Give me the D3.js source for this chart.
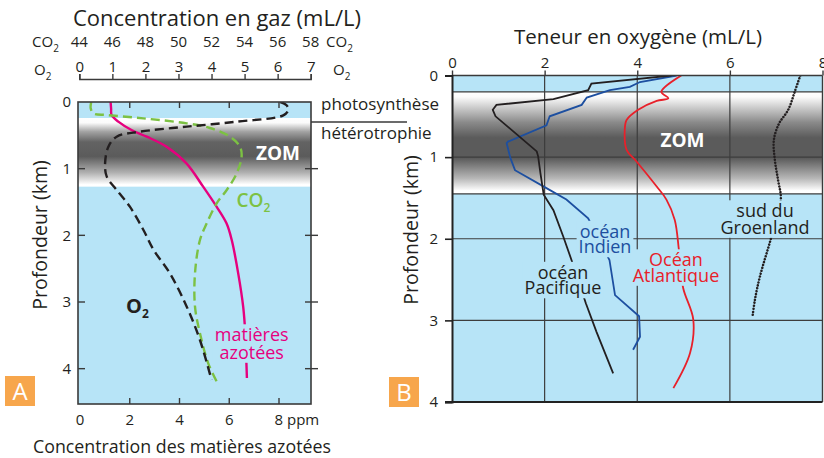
<!DOCTYPE html>
<html>
<head>
<meta charset="utf-8">
<script src="https://cdn.jsdelivr.net/npm/d3@7"></script>
<style>
  body { margin: 0; background: #fff; }
  svg text { font-family: "Open Sans", "Noto Sans", sans-serif; fill: #231f20; }
</style>
</head>
<body>
<svg id="chart" width="824" height="458"></svg>
<script>
// ---------- tick values ----------
const gasO2Ticks = [0, 1, 2, 3, 4, 5, 6, 7];
const gasCO2Ticks = [44, 46, 48, 50, 52, 54, 56, 58];
const ppmTicks = [0, 2, 4, 6, 8];
const depthTicksA = [0, 1, 2, 3, 4];
const oxygenTicks = [0, 2, 4, 6, 8];
const depthTicksB = [0, 1, 2, 3, 4];

// ---------- panel A profiles: [value, depth km] ----------
// dissolved O2 (mL/L)
const o2ProfileA = [
  [6.08, 0], [6.27, 0.05], [6.32, 0.12], [6.17, 0.2], [4.76, 0.295], [3.25, 0.37],
  [1.84, 0.445], [1.13, 0.52], [0.88, 0.67], [0.78, 0.92], [0.83, 1.12], [1.13, 1.32],
  [1.53, 1.57], [1.94, 1.92], [2.25, 2.22], [2.74, 2.57], [3.25, 3.07], [3.65, 3.57], [4.0, 4.17]
];
// dissolved CO2 (mL/L)
const co2ProfileA = [
  [44.72, 0], [44.69, 0.095], [44.85, 0.17], [45.66, 0.195], [47.87, 0.245], [50.5, 0.32],
  [51.9, 0.39], [53.12, 0.52], [53.72, 0.67], [53.82, 0.82], [53.52, 1.07], [52.92, 1.32],
  [52.31, 1.52], [51.71, 1.82], [51.3, 2.07], [51.0, 2.57], [51.0, 3.07], [51.3, 3.47],
  [51.8, 3.92], [52.41, 4.24]
];
// nitrogenous matter (ppm)
const nitrogenProfileA = [
  [1.23, 0], [1.25, 0.1], [1.27, 0.195], [1.54, 0.295], [2.07, 0.42], [2.68, 0.52],
  [3.48, 0.67], [4.28, 0.92], [4.95, 1.27], [5.49, 1.57], [5.89, 1.82], [6.1, 2.07],
  [6.36, 2.57], [6.56, 3.07], [6.65, 3.5], [6.69, 3.92], [6.71, 4.14]
];

// ---------- panel B oxygen profiles (mL/L, depth km) ----------
const pacificO2 = [
  [4.74, 0], [3.01, 0.10], [2.94, 0.18], [2.19, 0.29], [0.96, 0.36], [0.88, 0.42],
  [0.94, 0.50], [1.83, 0.93], [1.86, 0.99], [1.91, 1.20], [1.98, 1.46], [2.19, 1.65],
  [2.40, 1.97], [2.58, 2.26], [2.89, 2.79], [3.12, 3.14], [3.48, 3.65]
];
const indianO2 = [
  [4.85, 0], [4.06, 0.08], [3.84, 0.14], [3.41, 0.18], [2.91, 0.27], [2.80, 0.36],
  [2.11, 0.50], [2.04, 0.61], [1.21, 0.81], [1.18, 0.83], [1.26, 1.01], [1.36, 1.16],
  [2.04, 1.38], [2.47, 1.52], [2.94, 1.75], [3.40, 2.26], [3.52, 2.69], [4.04, 2.95],
  [4.06, 3.20], [3.91, 3.36]
];
const atlanticO2 = [
  [4.95, 0], [4.52, 0.20], [4.67, 0.28], [4.42, 0.31], [4.02, 0.42], [3.77, 0.545],
  [3.73, 0.67], [3.77, 0.91], [3.98, 1.05], [4.42, 1.36], [4.63, 1.52], [4.81, 1.77],
  [4.90, 2.14], [4.99, 2.60], [5.21, 2.99], [5.14, 3.40], [4.78, 3.83]
];
const greenlandO2 = [
  [7.52, 0], [7.40, 0.2], [7.26, 0.42], [7.06, 0.59], [6.95, 0.79], [6.97, 1.03],
  [7.04, 1.28], [7.10, 1.52], [6.90, 1.97], [6.65, 2.46], [6.54, 2.75], [6.49, 2.95]
];

// oxygen minimum zone depth limits (km)
const zomA = [0.24, 1.27];
const zomB = [0.2, 1.45];

// ---------- styling ----------
const SEA = "#b7e4f7";
const INK = "#231f20";
const FRAME = "#3a3a3a";
const PINK = "#e6007e";
const GREEN = "#7cc143";
const BLUE = "#1d4fa0";
const RED = "#e8202a";
const ORANGE = "#f7a64c";

const svg = d3.select("#chart");
const defs = svg.append("defs");

function zomGradient(id, stops) {
  const g = defs.append("linearGradient").attr("id", id)
    .attr("x1", 0).attr("y1", 0).attr("x2", 0).attr("y2", 1);
  stops.forEach(([o, c]) => g.append("stop").attr("offset", o).attr("stop-color", c));
}
zomGradient("zomA", [[0, "#fff"], [0.07, "#fbfbfb"], [0.2, "#a2a2a2"], [0.35, "#636363"],
  [0.56, "#5b5b5b"], [0.8, "#b2b2b2"], [0.97, "#fff"], [1, "#fff"]]);
zomGradient("zomB", [[0, "#fff"], [0.05, "#fbfbfb"], [0.3, "#8a8a8a"], [0.45, "#5b5b5b"],
  [0.65, "#5b5b5b"], [0.85, "#b8b8b8"], [0.97, "#fff"], [1, "#fff"]]);

// chemical formula with a lowered index
function sub(textSel, main, idx, size) {
  textSel.append("tspan").text(main);
  textSel.append("tspan").text(idx).attr("font-size", size).attr("dy", size * 0.45);
}

// multi-line label as a single text element, optionally backed by a sea-coloured box
function stackedLabel(parent, lines, cx, cy, gap, size, color, backed) {
  const g = parent.append("g");
  const t = g.append("text").attr("text-anchor", "middle").attr("font-size", size).style("fill", color);
  lines.forEach((s, i) => t.append("tspan").attr("x", cx).attr("y", cy + i * gap)
    .attr("dy", "0.35em").text(s));
  if (backed) {
    const bb = t.node().getBBox();
    g.insert("rect", ":first-child").attr("x", bb.x - 2).attr("y", bb.y + 2)
      .attr("width", bb.width + 4).attr("height", bb.height - 3).attr("fill", SEA);
  }
  return g;
}

// ================= PANEL A =================
const boxA = { x0: 78, x1: 311, y0: 102, y1: 404 };
const xPpm = d3.scaleLinear().domain([0, 8]).range([80, 279]);
const yA = d3.scaleLinear().domain([0, 4.53]).range([boxA.y0, boxA.y1]);
const xO2 = d3.scaleLinear().domain([0, 7]).range([79.3, 310.7]);
const xCO2 = d3.scaleLinear().domain([44, 58]).range([79.3, 310.7]);

const gA = svg.append("g");
defs.append("clipPath").attr("id", "clipA").append("rect")
  .attr("x", boxA.x0).attr("y", boxA.y0)
  .attr("width", boxA.x1 - boxA.x0).attr("height", boxA.y1 - boxA.y0);

gA.append("rect").attr("x", boxA.x0).attr("y", boxA.y0)
  .attr("width", boxA.x1 - boxA.x0).attr("height", boxA.y1 - boxA.y0).attr("fill", SEA);
gA.append("rect").attr("x", boxA.x0).attr("y", yA(zomA[0]))
  .attr("width", boxA.x1 - boxA.x0).attr("height", yA(zomA[1]) - yA(zomA[0]))
  .attr("fill", "url(#zomA)");
gA.append("text").attr("x", 278).attr("y", yA(0.77)).attr("dy", "0.35em")
  .attr("text-anchor", "middle").attr("font-size", 19).attr("font-weight", 700)
  .style("fill", "#fff").text("ZOM");

const linesA = gA.append("g").attr("clip-path", "url(#clipA)");
const curve = d3.curveCatmullRom.alpha(0.5);
linesA.append("path").datum(nitrogenProfileA)
  .attr("d", d3.line().x(d => xPpm(d[0])).y(d => yA(d[1])).curve(curve))
  .attr("fill", "none").attr("stroke", PINK).attr("stroke-width", 2.4);
linesA.append("path").datum(co2ProfileA)
  .attr("d", d3.line().x(d => xCO2(d[0])).y(d => yA(d[1])).curve(curve))
  .attr("fill", "none").attr("stroke", GREEN).attr("stroke-width", 2.4)
  .attr("stroke-dasharray", "9,5");
linesA.append("path").datum(o2ProfileA)
  .attr("d", d3.line().x(d => xO2(d[0])).y(d => yA(d[1])).curve(curve))
  .attr("fill", "none").attr("stroke", INK).attr("stroke-width", 2.4)
  .attr("stroke-dasharray", "9,5");

// frame and ticks
gA.append("rect").attr("x", boxA.x0).attr("y", boxA.y0)
  .attr("width", boxA.x1 - boxA.x0).attr("height", boxA.y1 - boxA.y0)
  .attr("fill", "none").attr("stroke", FRAME).attr("stroke-width", 1.6);
const tickA = gA.append("g").attr("stroke", FRAME).attr("stroke-width", 1.4);
ppmTicks.filter(v => v > 0).forEach(v => {
  tickA.append("line").attr("x1", xPpm(v)).attr("x2", xPpm(v)).attr("y1", boxA.y0).attr("y2", boxA.y0 + 6);
  tickA.append("line").attr("x1", xPpm(v)).attr("x2", xPpm(v)).attr("y1", boxA.y1).attr("y2", boxA.y1 - 6);
});
depthTicksA.filter(v => v > 0).forEach(v => {
  tickA.append("line").attr("x1", boxA.x0).attr("x2", boxA.x0 + 7).attr("y1", yA(v)).attr("y2", yA(v));
  tickA.append("line").attr("x1", boxA.x1 - 6).attr("x2", boxA.x1 + 7).attr("y1", yA(v)).attr("y2", yA(v));
});
gA.append("g").selectAll("text").data(depthTicksA).join("text")
  .attr("x", 71).attr("y", d => yA(d)).attr("dy", "0.35em").attr("text-anchor", "end")
  .attr("font-size", 15).text(d => d);

// bottom ppm labels
gA.append("g").selectAll("text").data(ppmTicks).join("text")
  .attr("x", d => xPpm(d)).attr("y", 425).attr("text-anchor", d => d === 8 ? "start" : "middle")
  .attr("dx", d => d === 8 ? -4.5 : 0)
  .attr("font-size", 15).text(d => d === 8 ? "8 ppm" : d);
gA.append("text").attr("x", 182).attr("y", 453).attr("text-anchor", "middle")
  .attr("font-size", 17.8).text("Concentration des matières azotées");

// top gas axis
const gasAxis = svg.append("g").attr("transform", "translate(0,79)")
  .call(d3.axisTop(xO2).tickValues(gasO2Ticks).tickSize(5).tickPadding(2).tickFormat(d3.format("d")));
gasAxis.select(".domain").attr("stroke", FRAME).attr("stroke-width", 1.5);
gasAxis.selectAll(".tick line").attr("stroke", FRAME).attr("stroke-width", 1.4);
gasAxis.selectAll(".tick text").attr("font-size", 15).attr("font-family", null).style("fill", INK);
svg.append("g").selectAll("text").data(gasCO2Ticks).join("text")
  .attr("x", d => xCO2(d)).attr("y", 47).attr("text-anchor", "middle")
  .attr("font-size", 15).text(d => d);
sub(svg.append("text").attr("x", 32).attr("y", 47).attr("font-size", 15), "CO", "2", 10);
sub(svg.append("text").attr("x", 34).attr("y", 75).attr("font-size", 15), "O", "2", 10);
sub(svg.append("text").attr("x", 326).attr("y", 47).attr("font-size", 15), "CO", "2", 10);
sub(svg.append("text").attr("x", 333).attr("y", 75).attr("font-size", 15), "O", "2", 10);
svg.append("text").attr("x", 217).attr("y", 26).attr("text-anchor", "middle")
  .attr("font-size", 22).text("Concentration en gaz (mL/L)");

// series labels in panel A
stackedLabel(gA, ["matières", "azotées"], 251.7, 335, 17.5, 18, PINK, true);

const co2Lab = gA.append("text").attr("x", 236.5).attr("y", 207).attr("font-size", 19)
  .attr("font-weight", 600).style("fill", GREEN);
sub(co2Lab, "CO", "2", 12);
const o2Lab = gA.append("text").attr("x", 126).attr("y", 313).attr("font-size", 20)
  .attr("font-weight", 700);
sub(o2Lab, "O", "2", 12);

svg.append("text").attr("transform", "translate(47,235) rotate(-90)").attr("text-anchor", "middle")
  .attr("font-size", 19.5).text("Profondeur (km)");

// photosynthesis / heterotrophy divide
svg.append("line").attr("x1", boxA.x1).attr("x2", 407).attr("y1", 122).attr("y2", 122)
  .attr("stroke", FRAME).attr("stroke-width", 1.3);
svg.append("text").attr("x", 321).attr("y", 110).attr("font-size", 17).text("photosynthèse");
svg.append("text").attr("x", 321).attr("y", 139).attr("font-size", 17).text("hétérotrophie");

// ================= PANEL B =================
const boxB = { x0: 452, x1: 822.5, y0: 75.5, y1: 402 };
const xB = d3.scaleLinear().domain([0, 8]).range([boxB.x0, boxB.x1]);
const yB = d3.scaleLinear().domain([0, 4]).range([boxB.y0, boxB.y1]);
const gB = svg.append("g");
defs.append("clipPath").attr("id", "clipB").append("rect")
  .attr("x", boxB.x0).attr("y", boxB.y0)
  .attr("width", boxB.x1 - boxB.x0).attr("height", boxB.y1 - boxB.y0);

gB.append("rect").attr("x", boxB.x0).attr("y", boxB.y0)
  .attr("width", boxB.x1 - boxB.x0).attr("height", boxB.y1 - boxB.y0).attr("fill", SEA);
gB.append("rect").attr("x", boxB.x0).attr("y", yB(zomB[0]))
  .attr("width", boxB.x1 - boxB.x0).attr("height", yB(zomB[1]) - yB(zomB[0]))
  .attr("fill", "url(#zomB)");

// grid
const grid = gB.append("g").attr("stroke", "#3d3d3d").attr("stroke-width", 1.2);
oxygenTicks.filter(v => v > 0 && v < 8).forEach(v =>
  grid.append("line").attr("x1", xB(v)).attr("x2", xB(v)).attr("y1", boxB.y0).attr("y2", boxB.y1));
depthTicksB.filter(v => v > 0 && v < 4).concat(zomB).forEach(v =>
  grid.append("line").attr("x1", boxB.x0).attr("x2", boxB.x1).attr("y1", yB(v)).attr("y2", yB(v)));

gB.append("text").attr("x", 682.5).attr("y", yB(0.79)).attr("dy", "0.35em")
  .attr("text-anchor", "middle").attr("font-size", 19).attr("font-weight", 700)
  .style("fill", "#fff").text("ZOM");

const linesB = gB.append("g").attr("clip-path", "url(#clipB)");
const lineB = d3.line().x(d => xB(d[0])).y(d => yB(d[1]));
linesB.append("path").datum(greenlandO2)
  .attr("d", lineB.curve(d3.curveCatmullRom.alpha(0.5)))
  .attr("fill", "none").attr("stroke", INK).attr("stroke-width", 2.5)
  .attr("stroke-linecap", "round").attr("stroke-dasharray", "0.1,2.9");
linesB.append("path").datum(atlanticO2)
  .attr("d", lineB.curve(d3.curveCatmullRom.alpha(0.5)))
  .attr("fill", "none").attr("stroke", RED).attr("stroke-width", 1.8);
linesB.append("path").datum(indianO2)
  .attr("d", lineB.curve(d3.curveLinear))
  .attr("fill", "none").attr("stroke", BLUE).attr("stroke-width", 1.8);
linesB.append("path").datum(pacificO2)
  .attr("d", lineB.curve(d3.curveLinear))
  .attr("fill", "none").attr("stroke", INK).attr("stroke-width", 1.8);

// frame
gB.append("line").attr("x1", boxB.x0).attr("x2", boxB.x1).attr("y1", boxB.y0).attr("y2", boxB.y0)
  .attr("stroke", FRAME).attr("stroke-width", 1.4);
gB.append("line").attr("x1", boxB.x1).attr("x2", boxB.x1).attr("y1", boxB.y0).attr("y2", boxB.y1)
  .attr("stroke", FRAME).attr("stroke-width", 1.4);

const axB = svg.append("g").attr("transform", `translate(0,${boxB.y0})`)
  .call(d3.axisTop(xB).tickValues(oxygenTicks).tickSize(5).tickPadding(3).tickFormat(d3.format("d")));
axB.select(".domain").remove();
axB.selectAll(".tick line").attr("stroke", FRAME).attr("stroke-width", 1.4);
axB.selectAll(".tick text").attr("font-size", 15).attr("font-family", null).style("fill", INK);

const ayB = svg.append("g").attr("transform", `translate(${boxB.x0},0)`)
  .call(d3.axisLeft(yB).tickValues(depthTicksB).tickSize(7).tickPadding(7).tickFormat(d3.format("d")));
ayB.select(".domain").attr("stroke", "#222").attr("stroke-width", 2);
ayB.selectAll(".tick line").attr("stroke", "#222").attr("stroke-width", 1.6);
ayB.selectAll(".tick text").attr("font-size", 15).attr("font-family", null).style("fill", INK);
svg.append("line").attr("x1", boxB.x0 - 7).attr("x2", boxB.x1).attr("y1", boxB.y1).attr("y2", boxB.y1)
  .attr("stroke", "#222").attr("stroke-width", 2);

svg.append("text").attr("x", 638).attr("y", 44).attr("text-anchor", "middle")
  .attr("font-size", 20.5).text("Teneur en oxygène (mL/L)");
svg.append("text").attr("transform", "translate(418,230) rotate(-90)").attr("text-anchor", "middle")
  .attr("font-size", 19.5).text("Profondeur (km)");

// series labels with sea-coloured backing
stackedLabel(gB, ["océan", "Indien"], 605, 231.5, 15.5, 18, BLUE, true);
stackedLabel(gB, ["Océan", "Atlantique"], 676, 260, 15.5, 18, RED, true);
stackedLabel(gB, ["océan", "Pacifique"], 563, 272.5, 15.5, 18, INK, true);
stackedLabel(gB, ["sud du", "Groenland"], 765, 211, 16.5, 18, INK, true);

// panel tags
function tag(x, y, letter) {
  svg.append("rect").attr("x", x).attr("y", y).attr("width", 30).attr("height", 30).attr("fill", ORANGE);
  svg.append("text").attr("x", x + 15).attr("y", y + 15).attr("dy", "0.36em").attr("text-anchor", "middle")
    .attr("font-size", 24).style("fill", "#fff").text(letter);
}
tag(5, 376, "A");
tag(389, 377, "B");
</script>
</body>
</html>
